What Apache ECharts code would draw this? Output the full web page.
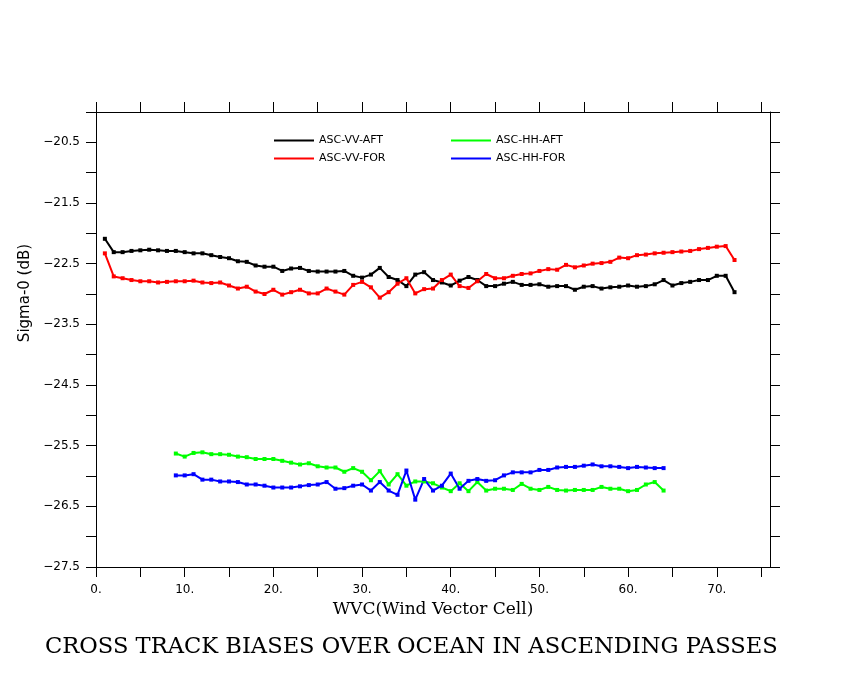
<!DOCTYPE html>
<html lang="en">
<head>
    <meta charset="UTF-8"/>
    <title>Cross track biases</title>
    <script src="https://cdn.jsdelivr.net/npm/echarts@6/dist/echarts.min.js"></script>
    <style>
        html, body { margin: 0; padding: 0; background: #fff; }
    </style>
</head>
<body>
<div id="chart" style="width: 850px;height:680px;"></div>
<script type="text/javascript">
    // WVC 位置
    var wvcVV = [1,2,3,4,5,6,7,8,9,10,11,12,13,14,15,16,17,18,19,20,21,22,23,24,25,26,27,28,29,30,
        31,32,33,34,35,36,37,38,39,40,41,42,43,44,45,46,47,48,49,50,51,52,53,54,55,56,57,58,59,60,
        61,62,63,64,65,66,67,68,69,70,71,72];
    var wvcHH = [9,10,11,12,13,14,15,16,17,18,19,20,21,22,23,24,25,26,27,28,29,30,
        31,32,33,34,35,36,37,38,39,40,41,42,43,44,45,46,47,48,49,50,51,52,53,54,55,56,57,58,59,60,
        61,62,63,64];

    var vvAft = [-22.09,-22.31,-22.31,-22.29,-22.28,-22.27,-22.28,-22.29,-22.29,-22.31,
        -22.33,-22.33,-22.36,-22.39,-22.41,-22.46,-22.47,-22.53,-22.55,-22.55,
        -22.62,-22.58,-22.57,-22.62,-22.63,-22.63,-22.63,-22.62,-22.70,-22.73,
        -22.68,-22.57,-22.72,-22.77,-22.87,-22.68,-22.64,-22.77,-22.81,-22.86,
        -22.78,-22.72,-22.77,-22.87,-22.87,-22.83,-22.80,-22.85,-22.85,-22.84,
        -22.88,-22.87,-22.87,-22.93,-22.88,-22.87,-22.91,-22.89,-22.88,-22.86,
        -22.88,-22.87,-22.84,-22.77,-22.86,-22.82,-22.80,-22.77,-22.77,-22.70,
        -22.70,-22.97];
    var vvFor = [-22.33,-22.71,-22.74,-22.77,-22.79,-22.79,-22.81,-22.80,-22.79,-22.79,
        -22.78,-22.81,-22.82,-22.81,-22.86,-22.91,-22.88,-22.96,-23.00,-22.93,
        -23.01,-22.97,-22.93,-22.99,-22.99,-22.91,-22.96,-23.01,-22.85,-22.80,
        -22.89,-23.06,-22.97,-22.83,-22.74,-22.99,-22.92,-22.91,-22.77,-22.68,
        -22.87,-22.90,-22.79,-22.67,-22.74,-22.74,-22.70,-22.67,-22.66,-22.62,
        -22.59,-22.60,-22.52,-22.56,-22.53,-22.50,-22.49,-22.47,-22.40,-22.41,
        -22.36,-22.35,-22.33,-22.32,-22.31,-22.30,-22.29,-22.26,-22.24,-22.22,
        -22.21,-22.44];
    var hhAft = [-25.63,-25.68,-25.62,-25.61,-25.64,-25.64,-25.65,-25.68,-25.69,-25.72,
        -25.72,-25.72,-25.75,-25.78,-25.81,-25.79,-25.84,-25.86,-25.86,-25.93,
        -25.87,-25.93,-26.07,-25.92,-26.14,-25.97,-26.16,-26.09,-26.09,-26.12,
        -26.19,-26.25,-26.12,-26.25,-26.10,-26.24,-26.21,-26.21,-26.23,-26.13,
        -26.21,-26.23,-26.18,-26.23,-26.24,-26.23,-26.23,-26.23,-26.18,-26.21,
        -26.21,-26.25,-26.23,-26.14,-26.10,-26.24];
    var hhFor = [-25.99,-25.99,-25.97,-26.06,-26.06,-26.09,-26.09,-26.10,-26.14,-26.14,
        -26.16,-26.19,-26.19,-26.19,-26.17,-26.15,-26.14,-26.10,-26.21,-26.20,
        -26.16,-26.14,-26.24,-26.10,-26.24,-26.31,-25.91,-26.39,-26.05,-26.24,
        -26.16,-25.96,-26.21,-26.08,-26.05,-26.08,-26.07,-25.99,-25.94,-25.94,
        -25.94,-25.90,-25.90,-25.86,-25.85,-25.85,-25.83,-25.81,-25.84,-25.84,
        -25.85,-25.87,-25.85,-25.86,-25.87,-25.87];

    // 刻度
    var xTicks = [0,5,10,15,20,25,30,35,40,45,50,55,60,65,70,75];
    var xLabels = [0,10,20,30,40,50,60,70];
    var yLabels = [-20.5,-21.5,-22.5,-23.5,-24.5,-25.5,-26.5,-27.5];

    function pairs(xs, ys) {
        var out = [];
        for (var i = 0; i < xs.length; i++) out.push([xs[i], ys[i]]);
        return out;
    }

    function line(name, color, xs, ys) {
        return {
            name: name,
            type: 'line',
            data: pairs(xs, ys),
            symbol: 'rect',
            symbolSize: 4,
            showSymbol: true,
            lineStyle: {color: color, width: 2},
            itemStyle: {color: color},
            animation: false
        };
    }

    var axisLine = {show: true, onZero: false, lineStyle: {color: '#000', width: 1}};
    var tickStyle = {show: true, length: 10, lineStyle: {color: '#000', width: 1}};
    var labelFont = {color: '#000', fontFamily: 'DejaVu Sans', fontSize: 12};
    var legendText = {fontFamily: 'DejaVu Sans', fontSize: 11, color: '#000'};

    var myChart = echarts.init(document.getElementById('chart'));
    var option = {
        backgroundColor: '#fff',
        animation: false,
        title: {
            text: 'CROSS TRACK BIASES OVER OCEAN IN ASCENDING PASSES',
            left: 40,
            top: 631,
            textStyle: {fontFamily: 'DejaVu Serif', fontSize: 22.6, fontWeight: 'normal', color: '#000'}
        },
        legend: [
            {
                data: ['ASC-VV-AFT', 'ASC-VV-FOR'],
                orient: 'vertical',
                left: 269, top: 130,
                itemWidth: 40, itemHeight: 2, itemGap: 7,
                icon: 'rect',
                textStyle: legendText
            },
            {
                data: ['ASC-HH-AFT', 'ASC-HH-FOR'],
                orient: 'vertical',
                left: 446, top: 130,
                itemWidth: 40, itemHeight: 2, itemGap: 7,
                icon: 'rect',
                textStyle: legendText
            }
        ],
        // y 轴标题
        graphic: [
            {
                type: 'text',
                x: 25, y: 293,
                rotation: Math.PI / 2,
                style: {
                    text: 'Sigma-0 (dB)',
                    fill: '#000',
                    font: '15px "DejaVu Sans"',
                    align: 'center',
                    verticalAlign: 'middle'
                }
            }
        ],
        grid: {left: 96, top: 112, right: 80, bottom: 113},
        xAxis: [
            {
                type: 'value', position: 'bottom', min: 0, max: 76,
                name: 'WVC(Wind Vector Cell)', nameLocation: 'middle', nameGap: 32,
                nameTextStyle: {fontFamily: 'DejaVu Serif', fontSize: 17, color: '#000'},
                axisLine: axisLine,
                axisTick: {show: true, length: 10, customValues: xTicks, lineStyle: {color: '#000', width: 1}},
                axisLabel: Object.assign({customValues: xLabels, margin: 17, formatter: function (v) { return v + '.'; }}, labelFont),
                splitLine: {show: false}
            },
            {
                type: 'value', position: 'top', min: 0, max: 76,
                axisLine: axisLine,
                axisTick: {show: true, length: 10, customValues: xTicks, lineStyle: {color: '#000', width: 1}},
                axisLabel: {show: false},
                splitLine: {show: false}
            }
        ],
        yAxis: [
            {
                type: 'value', position: 'left', min: -27.5, max: -20, interval: 0.5,
                axisLine: axisLine,
                axisTick: tickStyle,
                axisLabel: Object.assign({
                    margin: 16,
                    formatter: function (v) {
                        return yLabels.indexOf(v) >= 0 ? String(v).replace('-', '\u2212') : '';
                    }
                }, labelFont),
                splitLine: {show: false}
            },
            {
                type: 'value', position: 'right', min: -27.5, max: -20, interval: 0.5,
                axisLine: axisLine,
                axisTick: tickStyle,
                axisLabel: {show: false},
                splitLine: {show: false}
            }
        ],
        series: [
            line('ASC-VV-AFT', '#000000', wvcVV, vvAft),
            line('ASC-VV-FOR', '#ff0000', wvcVV, vvFor),
            line('ASC-HH-AFT', '#00ff00', wvcHH, hhAft),
            line('ASC-HH-FOR', '#0000ff', wvcHH, hhFor)
        ]
    };
    myChart.setOption(option);
</script>
</body>
</html>
